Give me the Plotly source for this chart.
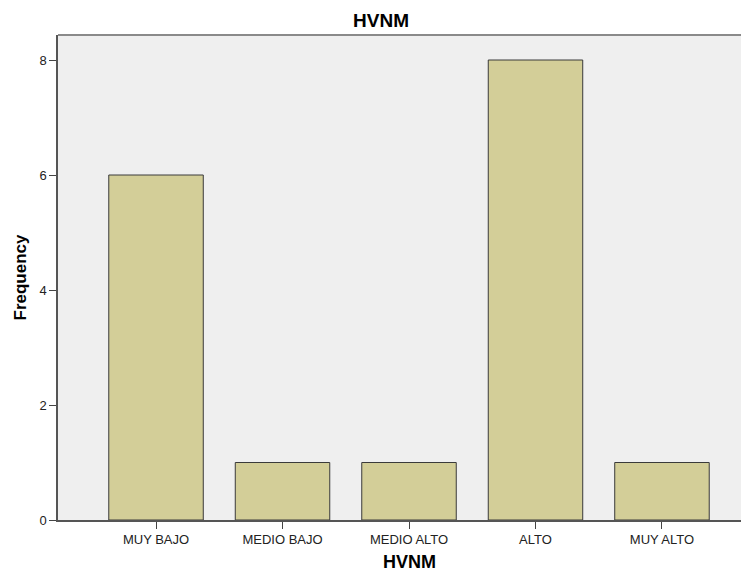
import plotly.graph_objects as go

categories = ["MUY BAJO", "MEDIO BAJO", "MEDIO ALTO", "ALTO", "MUY ALTO"]
frequency = [6, 1, 1, 8, 1]
y_ticks = [0, 2, 4, 6, 8]

fig = go.Figure()
fig.add_trace(go.Bar(
    x=categories, y=frequency,
    marker=dict(color="#d3ce98", line=dict(color="#3a3a3a", width=1)),
    width=0.747,
))

font_family = "Liberation Sans, Arial, sans-serif"
# The page body has an 8px margin, so the figure is sized 8px smaller.
fig.update_layout(
    width=741, height=563,
    margin=dict(l=50, r=0, t=27, b=51),
    paper_bgcolor="white",
    plot_bgcolor="#efefef",
    showlegend=False,
    font=dict(family=font_family, size=13, color="#222"),
    title=dict(text="<b>HVNM</b>", x=0.5034, xanchor="center", y=0.9787, yanchor="middle",
               font=dict(size=19, color="#000", family=font_family)),
    xaxis=dict(
        type="category", range=[-0.775, 4.688],
        showline=True, linecolor="#555", linewidth=1.5,
        ticks="outside", ticklen=7, tickcolor="#444", tickwidth=1,
        showgrid=False, zeroline=False,
        tickfont=dict(size=13, color="#222"),
    ),
    yaxis=dict(
        range=[0, 8.435],
        tickvals=y_ticks,
        showline=True, linecolor="#555", linewidth=1.5,
        ticks="outside", ticklen=7, tickcolor="#444", tickwidth=1,
        showgrid=False, zeroline=False,
        tickfont=dict(size=13, color="#222"),
    ),
    shapes=[dict(type="line", xref="paper", yref="paper", x0=0, x1=1, y0=1, y1=1,
                 line=dict(color="#8a8a8a", width=2))],
    annotations=[
        dict(text="<b>HVNM</b>", xref="paper", yref="paper", x=0.5094, y=0,
             xanchor="center", yanchor="middle", yshift=-42, showarrow=False,
             font=dict(size=18, color="#000")),
        dict(text="<b>Frequency</b>", xref="paper", yref="paper", x=0, y=0.5,
             xanchor="center", yanchor="middle", xshift=-38, textangle=-90,
             showarrow=False, font=dict(size=17, color="#000")),
    ],
)

fig.write_html("out.html")
